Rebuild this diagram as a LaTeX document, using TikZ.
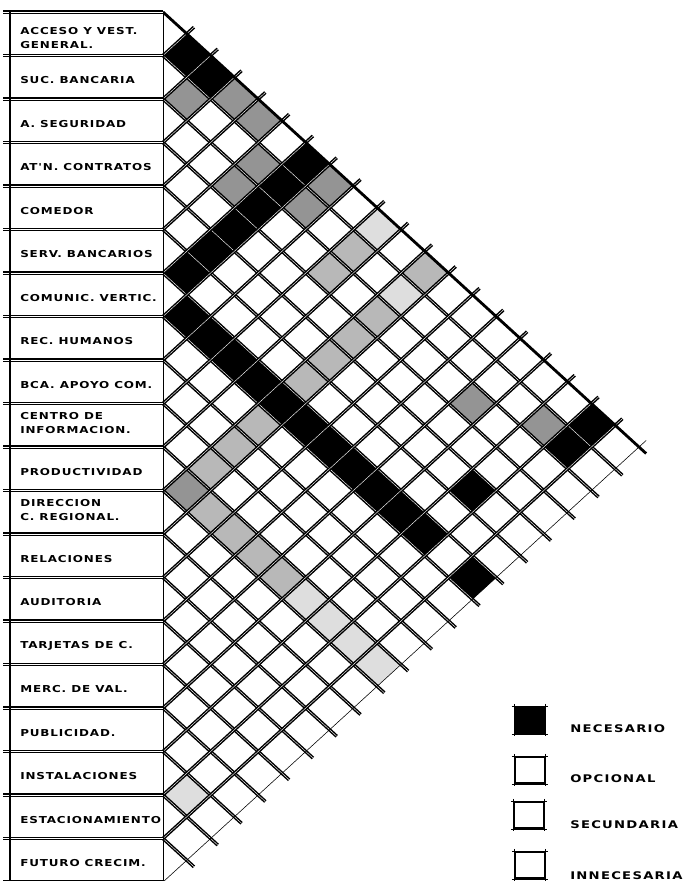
\documentclass[tikz,border=0pt]{standalone}
\usepackage{fontspec}
\newfontfamily\rotfont[FakeStretch=1.25,LetterSpace=9]{DejaVu Sans}
\newfontfamily\leyfont[FakeStretch=1.25,LetterSpace=12]{DejaVu Sans}
\usetikzlibrary{positioning}

% geometria de la matriz, en pixeles del original
\def\xl{163}
\def\yt{12}
\def\cw{23.8}
\def\ch{21.75}
\newcommand\celda[3]{%
  \fill[#1] ({\xl+(#3-#2-1)*\cw},{\yt+\ch*(#2+#3+1)}) -- ++(\cw,-\ch)
    -- ++(\cw,\ch) -- ++(-\cw,\ch) -- cycle;}

\begin{document}
\begin{tikzpicture}[x=0.25mm, y=-0.25mm,
  rot/.style={anchor=west, align=left, inner sep=0pt,
              font=\rotfont\bfseries\fontsize{6.8}{10}\selectfont},
  ley/.style={anchor=base west, inner sep=0pt,
              font=\leyfont\bfseries\fontsize{7.5}{9}\selectfont},
  red/.style={draw=black, line width=1.05pt, double=white, double distance=0.3pt},
  borde/.style={black, line width=2pt},
  fina/.style={black, line width=0.4pt},
  nec/.style={fill=black},
  sd/.style={fill=black!42},
  sm/.style={fill=black!28},
  sf/.style={fill=black!13},
  caja/.style={draw=black, line width=1.1pt, minimum width=7.5mm,
               minimum height=6.5mm, inner sep=0pt},
]
\useasboundingbox (0,0) rectangle (687,881);
\clip (0,0) rectangle (687,881);

% relaciones
\foreach \i/\j in {0/1,0/2,0/6,1/6,2/6,3/6,4/6,5/6,6/7,6/8,6/9,6/10,6/11,6/12,
    6/13,6/14,6/15,6/16,6/17,6/19,4/17,0/18,1/18}
  {\celda{nec}{\i}{\j}}
\foreach \i/\j in {1/2,0/3,0/4,1/5,2/5,0/7,1/7,10/11,2/15,1/17}
  {\celda{sd}{\i}{\j}}
\foreach \i/\j in {1/9,2/9,0/11,2/11,3/11,4/11,5/11,7/11,8/11,9/11,
    10/12,10/13,10/14,10/15}
  {\celda{sm}{\i}{\j}}
\foreach \i/\j in {0/9,1/11,10/16,10/17,10/18,10/19,17/18}
  {\celda{sf}{\i}{\j}}

% reticula
\foreach \k in {1,...,19} {
  \draw[red] (\xl,{\yt+2*\ch*\k}) -- ++({(20.3-\k)*\cw},{(20.3-\k)*\ch});
  \draw[red] (\xl,{\yt+2*\ch*\k}) -- ++({(\k+0.3)*\cw},{-(\k+0.3)*\ch});
}
\draw[borde] (\xl,\yt) -- ++({20.3*\cw},{20.3*\ch});
\draw[fina] (\xl,{\yt+40*\ch}) -- ++({20.3*\cw},{-20.3*\ch});

% columna de locales
\foreach \k in {0,...,20}
  \draw[red] (3,{\yt+2*\ch*\k}) -- (\xl,{\yt+2*\ch*\k});
\draw[black, line width=1pt] (10,\yt) -- (10,881);
\draw[fina] (\xl,\yt) -- (\xl,881);

\node[rot] (r0)  at (20,38)    {ACCESO Y VEST.\\GENERAL.};
\node[rot] (r1)  at (20,80.3)  {SUC. BANCARIA};
\node[rot] (r2)  at (20,123.8) {A. SEGURIDAD};
\node[rot] (r3)  at (20,167.3) {AT'N. CONTRATOS};
\node[rot] (r4)  at (20,210.8) {COMEDOR};
\node[rot] (r5)  at (20,254.3) {SERV. BANCARIOS};
\node[rot] (r6)  at (20,297.8) {COMUNIC. VERTIC.};
\node[rot] (r7)  at (20,341.3) {REC. HUMANOS};
\node[rot] (r8)  at (20,384.8) {BCA. APOYO COM.};
\node[rot] (r9)  at (20,423.3) {CENTRO DE\\INFORMACION.};
\node[rot] (r10) at (20,471.8) {PRODUCTIVIDAD};
\node[rot] (r11) at (20,510.3) {DIRECCION\\C. REGIONAL.};
\node[rot] (r12) at (20,558.8) {RELACIONES};
\node[rot] (r13) at (20,602.3) {AUDITORIA};
\node[rot] (r14) at (20,645.8) {TARJETAS DE C.};
\node[rot] (r15) at (20,689.3) {MERC. DE VAL.};
\node[rot] (r16) at (20,732.8) {PUBLICIDAD.};
\node[rot] (r17) at (20,776.3) {INSTALACIONES};
\node[rot] (r18) at (20,819.8) {ESTACIONAMIENTO};
\node[rot] (r19) at (20,863.3) {FUTURO CRECIM.};

% simbologia
\node[caja, fill=black] (kn) at (530,720) {};
\node[caja] (ko) at (530,770) {};
\node[caja] (ks) at (529,815) {};
\node[caja] (ki) at (530,865) {};
\foreach \n in {kn,ko,ks,ki} {
  \draw[fina] ([xshift=-0.6mm]\n.north west) -- ([xshift=0.6mm]\n.north east);
  \draw[fina] ([xshift=-0.6mm]\n.south west) -- ([xshift=0.6mm]\n.south east);
  \draw[fina] ([yshift=0.6mm]\n.north west) -- ([yshift=-0.6mm]\n.south west);
  \draw[fina] ([yshift=0.6mm]\n.north east) -- ([yshift=-0.6mm]\n.south east);
}
\node[ley] (tn) at (570,732) {NECESARIO};
\node[ley] (to) at (570,782) {OPCIONAL};
\node[ley] (ts) at (570,828) {SECUNDARIA};
\node[ley] (ti) at (570,879) {INNECESARIA};
\end{tikzpicture}
\end{document}
